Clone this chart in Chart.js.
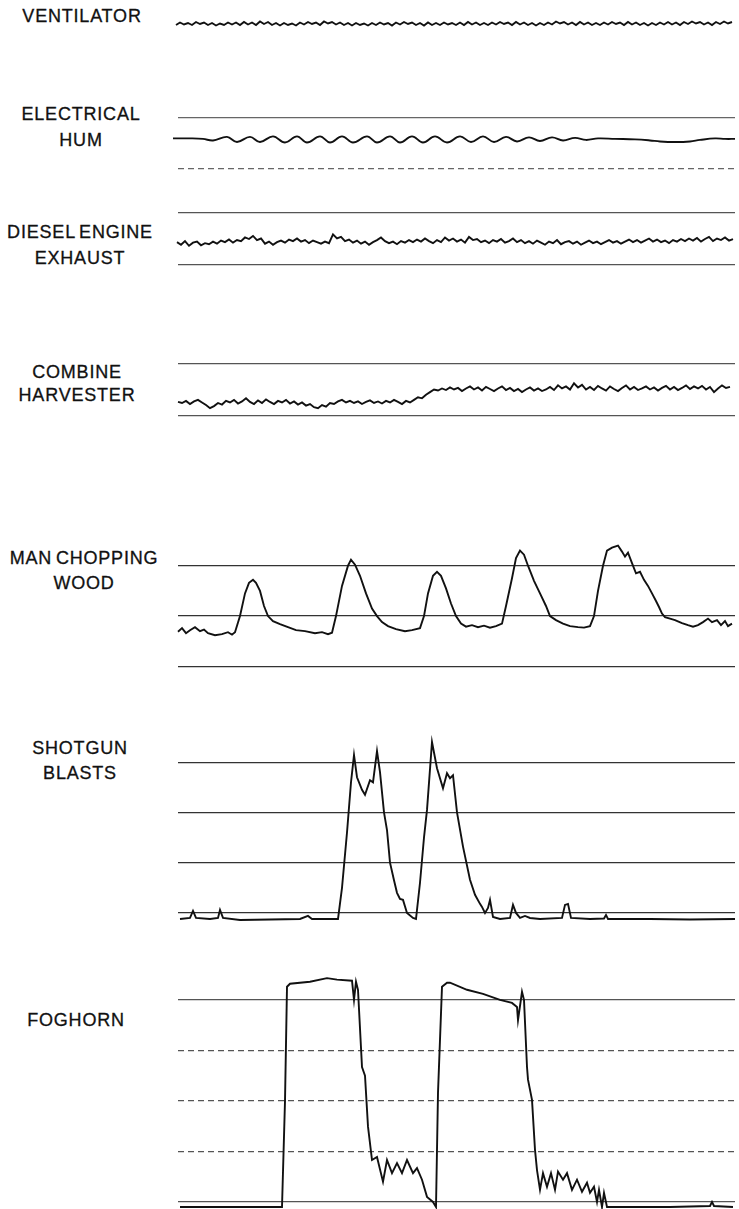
<!DOCTYPE html>
<html>
<head>
<meta charset="utf-8">
<script src="https://cdn.jsdelivr.net/npm/chart.js@4.4.1/dist/chart.umd.min.js"></script>
<style>
html, body { margin: 0; padding: 0; background: #fff; }
#page { position: relative; width: 739px; height: 1209px; overflow: hidden; }
.label {
    position: absolute;
    font-family: "Liberation Sans", Arial, sans-serif;
    font-size: 18px;
    letter-spacing: 0.8px;
    color: #111;
    white-space: nowrap;
    word-spacing: -2px;
    -webkit-text-stroke: 0.3px #111;
    transform: translate(-50%, -50%);
}
canvas { position: absolute; }
</style>
</head>
<body>
<div id="page"></div>
<script>
(function () {
    'use strict';

    // sampled traces: level per sample, samples spaced evenly in time
    const ventilatorStart = 2, ventilatorStep = 4;
    const ventilatorLevels = [
        0.02, -0.02, 0.03, -0.01, 0.02, -0.02, 0.04, 0.0, 0.03, -0.02,
        0.02, -0.03, 0.01, -0.02, 0.03, -0.01, 0.03, -0.02, 0.04, -0.01,
        0.03, -0.02, 0.05, 0.0, 0.04, -0.02, 0.02, -0.03, 0.02, -0.02,
        0.01, -0.03, 0.03, -0.01, 0.04, 0.0, 0.03, -0.02, 0.05, 0.01,
        0.04, -0.01, 0.03, -0.02, 0.02, -0.03, 0.02, -0.02, 0.01, -0.03,
        0.02, -0.02, 0.03, -0.01, 0.02, -0.03, 0.03, -0.01, 0.04, 0.0,
        0.03, -0.02, 0.02, -0.03, 0.03, -0.02, 0.02, -0.02, 0.03, -0.01,
        0.02, -0.02, 0.03, -0.02, 0.04, -0.01, 0.03, -0.02, 0.02, -0.02,
        0.03, -0.01, 0.04, 0.0, 0.03, -0.02, 0.04, -0.01, 0.03, -0.02,
        0.02, -0.03, 0.02, -0.02, 0.03, -0.01, 0.05, 0.01, 0.04, -0.01,
        0.03, -0.02, 0.04, -0.01, 0.03, -0.02, 0.02, -0.02, 0.03, -0.01,
        0.04, 0.0, 0.03, -0.02, 0.04, -0.01, 0.03, -0.02, 0.02, -0.03,
        0.02, -0.02, 0.03, -0.01, 0.04, -0.01, 0.03, -0.02, 0.04, 0.0,
        0.05, 0.01, 0.04, -0.01, 0.03, -0.02, 0.04, 0.0, 0.05, 0.01,
        0.04
    ];

    const dieselStart = 3, dieselStep = 4;
    const dieselLevels = [
        0.40, 0.43, 0.38, 0.45, 0.36, 0.42, 0.44, 0.37, 0.41, 0.39,
        0.44, 0.40, 0.46, 0.43, 0.48, 0.42, 0.47, 0.45, 0.52, 0.49,
        0.55, 0.47, 0.50, 0.40, 0.44, 0.38, 0.43, 0.46, 0.42, 0.48,
        0.45, 0.50, 0.44, 0.47, 0.41, 0.46, 0.43, 0.40, 0.44, 0.41,
        0.58, 0.50, 0.53, 0.45, 0.48, 0.42, 0.46, 0.40, 0.44, 0.38,
        0.43, 0.47, 0.52, 0.45, 0.41, 0.44, 0.39, 0.45, 0.42, 0.47,
        0.43, 0.48, 0.44, 0.50, 0.45, 0.41, 0.47, 0.43, 0.52, 0.46,
        0.50, 0.44, 0.48, 0.42, 0.53, 0.47, 0.49, 0.43, 0.46, 0.41,
        0.47, 0.44, 0.49, 0.42, 0.45, 0.50, 0.43, 0.47, 0.41, 0.45,
        0.40, 0.46, 0.42, 0.38, 0.44, 0.41, 0.47, 0.39, 0.43, 0.45,
        0.40, 0.44, 0.38, 0.42, 0.46, 0.41, 0.44, 0.39, 0.43, 0.47,
        0.42, 0.45, 0.40, 0.44, 0.48, 0.43, 0.47, 0.42, 0.46, 0.50,
        0.44, 0.48, 0.43, 0.46, 0.41, 0.47, 0.44, 0.49, 0.45, 0.50,
        0.46, 0.51, 0.44, 0.49, 0.53, 0.45, 0.50, 0.47, 0.52, 0.46,
        0.49
    ];

    const combineStart = 8, combineStep = 4;
    const combineLevels = [
        0.26, 0.24, 0.28, 0.22, 0.27, 0.30, 0.25, 0.20, 0.14, 0.18,
        0.24, 0.21, 0.28, 0.25, 0.30, 0.23, 0.27, 0.33, 0.26, 0.22,
        0.29, 0.24, 0.31, 0.26, 0.22, 0.28, 0.25, 0.30, 0.23, 0.27,
        0.21, 0.25, 0.19, 0.22, 0.16, 0.14, 0.20, 0.17, 0.24, 0.22,
        0.27, 0.30, 0.25, 0.28, 0.24, 0.27, 0.22, 0.26, 0.29, 0.24,
        0.27, 0.23, 0.28, 0.25, 0.30, 0.26, 0.22, 0.28, 0.25, 0.30,
        0.35, 0.33, 0.40, 0.45, 0.50, 0.48, 0.52, 0.49, 0.54, 0.50,
        0.53, 0.47, 0.52, 0.56, 0.50, 0.54, 0.48, 0.55, 0.51, 0.47,
        0.52, 0.56, 0.49, 0.53, 0.47, 0.51, 0.45, 0.50, 0.54, 0.48,
        0.52, 0.47, 0.50, 0.55, 0.49, 0.58, 0.52, 0.56, 0.50, 0.62,
        0.54, 0.59, 0.50, 0.55, 0.49, 0.57, 0.52, 0.48, 0.56, 0.51,
        0.47, 0.53, 0.58, 0.50, 0.55, 0.49, 0.52, 0.56, 0.50, 0.54,
        0.48, 0.53, 0.57, 0.50, 0.55, 0.49, 0.53, 0.58, 0.51, 0.56,
        0.52, 0.57, 0.50, 0.55, 0.45, 0.52, 0.58, 0.53, 0.55
    ];

    const humTrace = [
        [3, 0.59], [20, 0.59], [33, 0.58], [43, 0.55], [57, 0.62], [67, 0.52],
        [80, 0.62], [90, 0.52], [103, 0.63], [115, 0.51], [127, 0.63], [137, 0.51],
        [150, 0.63], [160, 0.51], [172, 0.63], [183, 0.51], [197, 0.63], [207, 0.51],
        [220, 0.63], [230, 0.51], [242, 0.63], [253, 0.51], [265, 0.63], [277, 0.51],
        [290, 0.63], [301, 0.52], [313, 0.63], [324, 0.52], [336, 0.62], [347, 0.53],
        [359, 0.61], [370, 0.54], [382, 0.61], [393, 0.55], [405, 0.60], [416, 0.56],
        [428, 0.59], [445, 0.58], [465, 0.57], [480, 0.55], [490, 0.53], [505, 0.52],
        [520, 0.53], [530, 0.56], [545, 0.59], [555, 0.58], [565, 0.58]
    ];

    const choppingTrace = [
        [8, 0.69], [12, 0.76], [16, 0.66], [20, 0.72], [25, 0.78], [30, 0.70],
        [34, 0.73], [38, 0.66], [45, 0.62], [52, 0.64], [58, 0.68], [62, 0.63],
        [65, 0.68], [70, 1.0], [75, 1.45], [79, 1.66], [83, 1.72], [86, 1.66],
        [90, 1.5], [94, 1.2], [98, 1.0], [103, 0.9], [110, 0.84], [118, 0.78],
        [126, 0.72], [135, 0.70], [145, 0.66], [152, 0.68], [158, 0.64], [162, 0.67],
        [166, 1.0], [172, 1.6], [178, 2.0], [181, 2.12], [185, 2.02], [190, 1.8],
        [196, 1.45], [202, 1.15], [207, 1.0], [212, 0.88], [218, 0.80], [226, 0.74],
        [235, 0.70], [242, 0.72], [250, 0.76], [254, 1.0], [258, 1.45], [263, 1.8],
        [267, 1.88], [271, 1.80], [276, 1.55], [281, 1.25], [286, 1.0], [291, 0.85],
        [296, 0.79], [302, 0.82], [308, 0.78], [314, 0.81], [320, 0.77], [326, 0.80],
        [332, 0.85], [336, 1.2], [342, 1.75], [346, 2.15], [350, 2.30], [354, 2.22],
        [358, 2.0], [364, 1.7], [370, 1.45], [376, 1.2], [380, 1.0], [386, 0.92],
        [393, 0.85], [400, 0.80], [408, 0.78], [414, 0.77], [420, 0.80], [424, 1.0],
        [428, 1.5], [433, 2.0], [437, 2.3], [442, 2.36], [448, 2.40], [452, 2.28],
        [455, 2.18], [458, 2.26], [462, 2.05], [466, 1.85], [470, 1.88], [474, 1.72],
        [478, 1.60], [482, 1.45], [486, 1.30], [489, 1.18], [492, 1.05], [495, 0.98],
        [500, 0.95], [505, 0.92], [512, 0.86], [518, 0.82], [523, 0.79], [528, 0.82],
        [533, 0.88], [538, 0.95], [542, 0.88], [547, 0.92], [551, 0.82], [555, 0.90],
        [558, 0.80], [562, 0.85]
    ];

    const shotgunTrace = [
        [10, -0.12], [20, -0.1], [23, 0.04], [26, -0.1], [40, -0.12], [48, -0.1],
        [50, 0.06], [53, -0.1], [70, -0.14], [100, -0.13], [130, -0.12], [138, -0.06],
        [142, -0.12], [160, -0.12], [168, -0.12], [172, 0.5], [177, 1.6], [181, 2.6],
        [184, 3.14], [187, 2.7], [192, 2.45], [195, 2.35], [200, 2.64], [203, 2.6],
        [207, 3.22], [210, 2.8], [214, 2.0], [217, 1.65], [220, 1.0], [224, 0.65],
        [227, 0.4], [230, 0.28], [233, 0.26], [237, 0.0], [243, -0.1], [246, -0.12],
        [250, 0.6], [254, 1.5], [257, 2.05], [262, 3.4], [267, 2.88], [273, 2.48],
        [277, 2.78], [280, 2.68], [283, 2.74], [287, 2.0], [293, 1.32], [300, 0.66],
        [305, 0.36], [310, 0.18], [312, 0.12], [315, 0.0], [318, 0.1], [320, 0.26],
        [323, -0.08], [330, -0.12], [340, -0.1], [343, 0.16], [346, 0.0], [350, -0.1],
        [355, -0.06], [360, -0.1], [370, -0.12], [392, -0.1], [395, 0.16], [398, 0.18],
        [401, -0.1], [420, -0.12], [434, -0.11], [436, -0.04], [438, -0.12], [480, -0.12],
        [520, -0.13], [565, -0.12]
    ];

    const foghornTrace = [
        [10, -0.1], [50, -0.1], [90, -0.1], [112, -0.1], [115, 2.0], [117, 4.26],
        [120, 4.32], [140, 4.36], [157, 4.43], [167, 4.40], [182, 4.38], [184, 4.0],
        [186, 4.36], [188, 4.2], [192, 2.67], [195, 2.5], [198, 1.49], [202, 0.83],
        [207, 0.89], [213, 0.4], [217, 0.83], [222, 0.57], [227, 0.77], [232, 0.57],
        [237, 0.83], [243, 0.57], [247, 0.67], [252, 0.44], [257, 0.1], [263, 0.0],
        [266, -0.1], [268, 2.16], [272, 4.26], [277, 4.34], [280, 4.34], [297, 4.2],
        [313, 4.12], [330, 4.0], [342, 3.94], [347, 3.86], [348, 3.6], [352, 4.16],
        [354, 4.0], [357, 2.67], [358, 2.42], [362, 2.02], [365, 1.03], [367, 0.63],
        [370, 0.24], [373, 0.57], [377, 0.3], [381, 0.57], [385, 0.24], [388, 0.6],
        [393, 0.44], [397, 0.57], [402, 0.24], [407, 0.44], [412, 0.2], [417, 0.38],
        [420, 0.18], [424, 0.3], [427, 0.0], [429, 0.24], [432, -0.1], [434, 0.18],
        [437, -0.1], [443, -0.1], [500, -0.1], [540, -0.08], [542, 0.0], [544, -0.08],
        [563, -0.1]
    ];

    function sampled(start, step, levels) {
        return levels.map((v, i) => ({x: start + i * step, y: v}));
    }
    function pairs(trace) {
        return trace.map(p => ({x: p[0], y: p[1]}));
    }

    const panels = [
        {label: ['VENTILATOR'], labelX: 82, labelY: [16],
         zero: 24, unit: 50, lo: -0.3, hi: 0.3, grid: [], dashed: [],
         data: sampled(ventilatorStart, ventilatorStep, ventilatorLevels)},
        {label: ['ELECTRICAL', 'HUM'], labelX: 81, labelY: [114, 140],
         zero: 168, unit: 51, lo: -0.3, hi: 1.3, grid: [0, 1], dashed: [0],
         gridColor: '#666', tension: 0.4, data: pairs(humTrace)},
        {label: ['DIESEL ENGINE', 'EXHAUST'], labelX: 80, labelY: [232, 258],
         zero: 265, unit: 52, lo: -0.3, hi: 1.3, grid: [0, 1], dashed: [],
         gridColor: '#555', data: sampled(dieselStart, dieselStep, dieselLevels)},
        {label: ['COMBINE', 'HARVESTER'], labelX: 77, labelY: [372, 395],
         zero: 416, unit: 52, lo: -0.3, hi: 1.3, grid: [0, 1], dashed: [],
         gridColor: '#555', data: sampled(combineStart, combineStep, combineLevels)},
        {label: ['MAN CHOPPING', 'WOOD'], labelX: 84, labelY: [558, 583],
         zero: 667, unit: 50.5, lo: -0.25, hi: 2.65, grid: [0, 1, 2], dashed: [],
         gridColor: '#333', data: pairs(choppingTrace)},
        {label: ['SHOTGUN', 'BLASTS'], labelX: 80, labelY: [748, 773],
         zero: 913, unit: 50.3, lo: -0.3, hi: 3.6, grid: [0, 1, 2, 3], dashed: [],
         gridColor: '#333', data: pairs(shotgunTrace)},
        {label: ['FOGHORN'], labelX: 76, labelY: [1020],
         zero: 1202, unit: 50.5, lo: -0.14, hi: 4.75, grid: [0, 1, 2, 3, 4], dashed: [1, 2, 3],
         gridColor: '#555', data: pairs(foghornTrace)}
    ];

    const page = document.getElementById('page');

    function addLabel(p) {
        p.label.forEach((text, i) => {
            const div = document.createElement('div');
            div.className = 'label';
            div.textContent = text;
            div.style.left = p.labelX + 'px';
            div.style.top = p.labelY[i] + 'px';
            page.appendChild(div);
        });
    }

    function addChart(p) {
        const top = Math.round(p.zero - p.hi * p.unit);
        const height = Math.round((p.hi - p.lo) * p.unit);
        const canvas = document.createElement('canvas');
        canvas.width = 574;
        canvas.height = height;
        canvas.style.left = '165px';
        canvas.style.top = top + 'px';
        page.appendChild(canvas);
        const hasGrid = p.grid.length > 0;
        new Chart(canvas, {
            type: 'line',
            data: {
                datasets: [{
                    data: p.data,
                    borderColor: '#111',
                    borderWidth: 1.9,
                    pointRadius: 0,
                    tension: p.tension || 0,
                    fill: false,
                    clip: false
                }]
            },
            options: {
                responsive: false,
                animation: false,
                events: [],
                layout: {padding: {left: 13, right: 4, top: 0, bottom: 0}},
                plugins: {legend: {display: false}, tooltip: {enabled: false}},
                scales: {
                    x: {type: 'linear', min: 8, max: 565, display: false},
                    y: {
                        type: 'linear',
                        min: p.lo,
                        max: p.hi,
                        afterBuildTicks: (scale) => {
                            if (hasGrid) {
                                scale.ticks = p.grid.map(v => ({value: v}));
                            }
                        },
                        ticks: {display: false},
                        border: {
                            display: false,
                            dash: (ctx) => (ctx.tick && p.dashed.includes(ctx.tick.value)) ? [6, 4] : []
                        },
                        grid: {
                            display: hasGrid,
                            drawTicks: false,
                            color: p.gridColor || '#555',
                            lineWidth: 1.2
                        }
                    }
                }
            }
        });
    }

    panels.forEach(p => {
        addLabel(p);
        addChart(p);
    });
})();
</script>
</body>
</html>
